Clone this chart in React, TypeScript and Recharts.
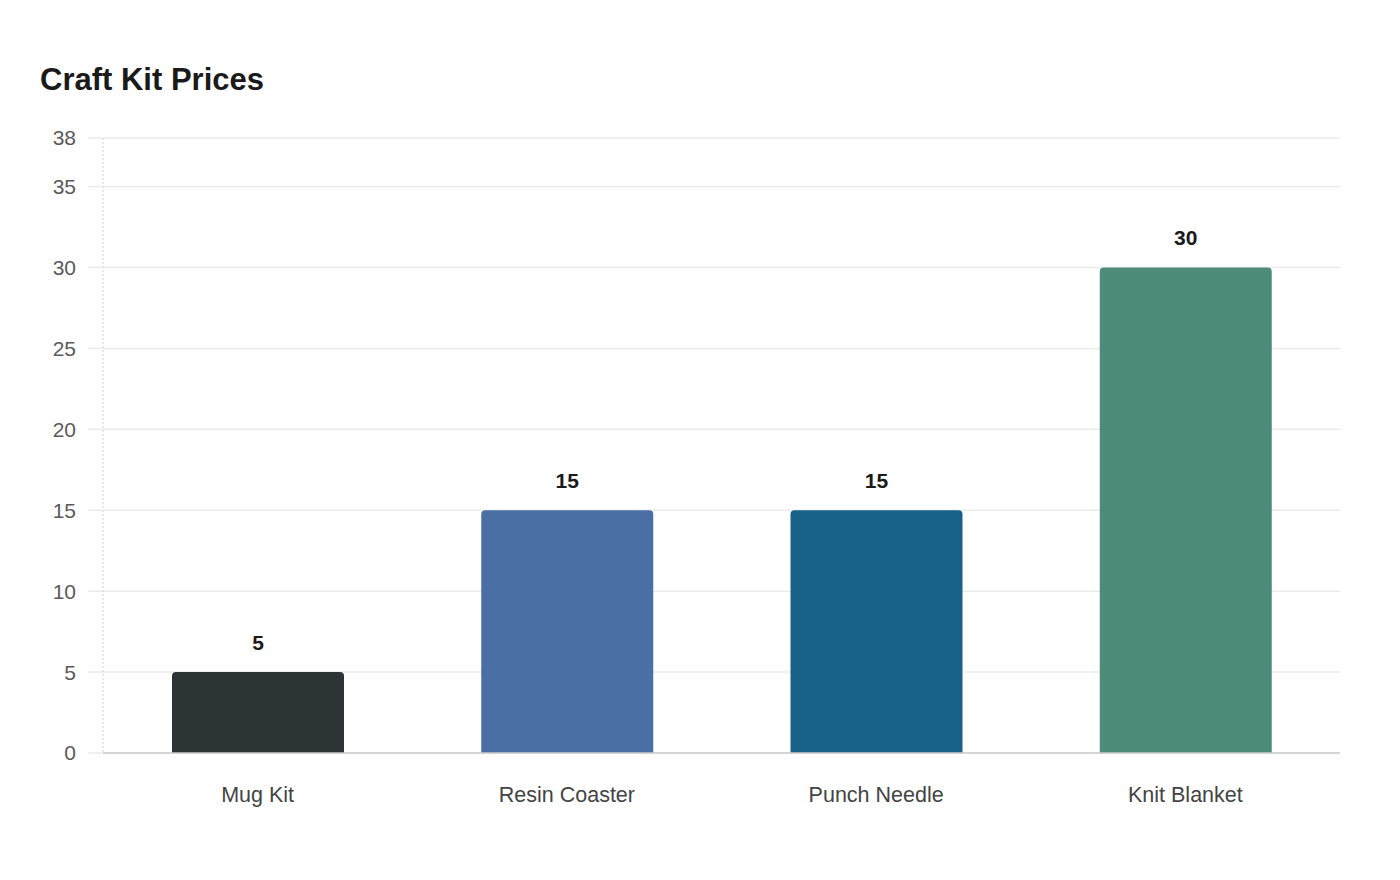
import React from "react";
import { BarChart, Bar, XAxis, YAxis, CartesianGrid, LabelList, Cell } from "recharts";

// craft kit prices
const categories = ["Mug Kit", "Resin Coaster", "Punch Needle", "Knit Blanket"];
const prices = [5, 15, 15, 30];
const barColors = ["#2d3436", "#4a6fa5", "#186188", "#4d8c7a"];
const yTicks = [0, 5, 10, 15, 20, 25, 30, 35, 38];

const data = categories.map((name, i) => ({ name, price: prices[i] }));

const FONT = '"Liberation Sans", Arial, sans-serif';

export default function App() {
  return (
    <div
      style={{
        position: "absolute",
        left: 0,
        top: 0,
        width: 1400,
        height: 880,
        background: "#fff",
        fontFamily: FONT,
      }}
    >
      <div
        style={{
          position: "absolute",
          left: 40,
          top: 64,
          fontSize: 31,
          lineHeight: "31px",
          fontWeight: 700,
          color: "#1a1a1a",
        }}
      >
        Craft Kit Prices
      </div>
      <BarChart
        width={1400}
        height={880}
        data={data}
        margin={{ top: 138, right: 60, bottom: 67, left: 0 }}
        barSize={172}
      >
        <CartesianGrid vertical={false} stroke="#ebebeb" strokeWidth={1.5} />
        <XAxis
          dataKey="name"
          height={60}
          tickLine={false}
          axisLine={{ stroke: "#cccccc", strokeWidth: 1.5 }}
          tick={{ fill: "#444", fontSize: 21.5, fontFamily: FONT }}
          tickMargin={34}
          tickSize={0}
        />
        <YAxis
          width={103}
          domain={[0, 38]}
          ticks={yTicks}
          interval={0}
          tickSize={15}
          tickMargin={12}
          tickLine={{ stroke: "#ebebeb", strokeWidth: 1.5 }}
          axisLine={{ stroke: "#d0d0d0", strokeDasharray: "2 2" }}
          tick={{ fill: "#5a5a5a", fontSize: 21, fontFamily: FONT }}
        />
        <Bar dataKey="price" radius={[4, 4, 0, 0]} isAnimationActive={false}>
          {data.map((d, i) => (
            <Cell key={d.name} fill={barColors[i]} />
          ))}
          <LabelList
            dataKey="price"
            position="top"
            offset={22}
            style={{ fill: "#1a1a1a", fontSize: 21, fontWeight: 700, fontFamily: FONT }}
          />
        </Bar>
      </BarChart>
    </div>
  );
}
